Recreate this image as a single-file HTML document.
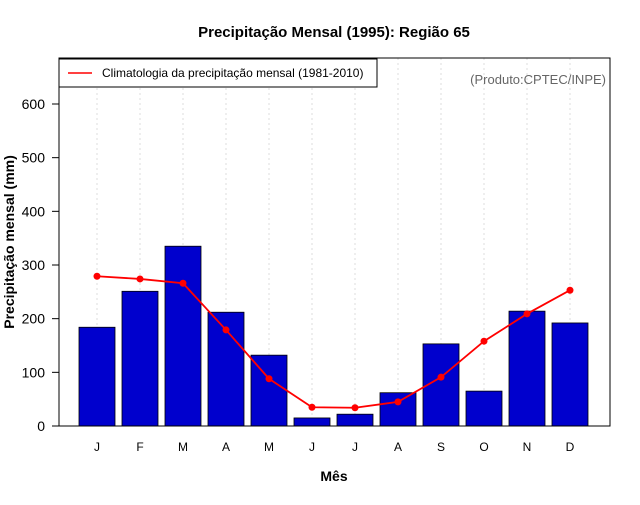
<!DOCTYPE html>
<html><head><meta charset="utf-8"><style>
body{margin:0;background:#fff}
svg text{font-family:"Liberation Sans",sans-serif}
</style></head><body>
<svg id="chart" width="640" height="500" xmlns="http://www.w3.org/2000/svg">
<text x="334" y="37" text-anchor="middle" font-size="15" font-weight="bold">Precipitação Mensal (1995): Região 65</text>
<g id="grid"></g>
<g id="bars"></g>
<g id="line"></g>
<g id="axes"></g>
<rect x="59" y="58" width="551" height="368" fill="none" stroke="#000"/>
<g>
<rect x="59" y="59" width="318" height="28" fill="#fff" stroke="#000"/>
<line x1="68" y1="73" x2="92" y2="73" stroke="#f00" stroke-width="1.5"/>
<text x="102" y="77" font-size="12">Climatologia da precipitação mensal (1981-2010)</text>
</g>
<text x="606" y="84" text-anchor="end" font-size="13" fill="#666">(Produto:CPTEC/INPE)</text>
<text x="334" y="481" text-anchor="middle" font-size="14" font-weight="bold">Mês</text>
<text transform="translate(14,242) rotate(-90)" text-anchor="middle" font-size="14" font-weight="bold">Precipitação mensal (mm)</text>
</svg>
<script>
const months = ["J","F","M","A","M","J","J","A","S","O","N","D"];
const observed = [184,251,335,212,132,15,22,62,153,65,214,192];
const climatology = [279,274,266,179,88,35,34,45,91,158,209,253];
const yTicks = [0,100,200,300,400,500,600];
const NS="http://www.w3.org/2000/svg";
const x0=97, dx=43, yBase=426, yScale=322/600;
const xs=i=>x0+i*dx;
const ys=v=>yBase-v*yScale;
function mk(tag,attrs,parent){const e=document.createElementNS(NS,tag);for(const k in attrs)e.setAttribute(k,attrs[k]);document.getElementById(parent).appendChild(e);return e;}
months.forEach((m,i)=>{
  const g=mk('line',{x1:xs(i),x2:xs(i),y1:58,y2:426,stroke:'#ddd','stroke-dasharray':'2,3'},'grid');
  
  
  const b=mk('rect',{x:xs(i)-18,y:ys(observed[i]),width:36,height:observed[i]*yScale,fill:'#0000cd',stroke:'#000','stroke-width':0.8},'bars');
  
  
  const t=mk('text',{x:xs(i),y:451,'text-anchor':'middle','font-size':12},'axes');
  t.textContent=m;
  
  
});
const pl=mk('polyline',{points:climatology.map((v,i)=>xs(i)+','+ys(v)).join(' '),fill:'none',stroke:'#f00','stroke-width':1.8},'line');


climatology.forEach((v,i)=>{
  const c=mk('circle',{cx:xs(i),cy:ys(v),r:3.5,fill:'#f00'},'line');
  
  
});
yTicks.forEach(v=>{
  const l=mk('line',{x1:52,x2:59,y1:ys(v),y2:ys(v),stroke:'#000'},'axes');
  
  
  const t=mk('text',{x:45,y:ys(v)+5,'text-anchor':'end','font-size':14},'axes');
  t.textContent=v;
  
  
});
</script>
</body></html>
